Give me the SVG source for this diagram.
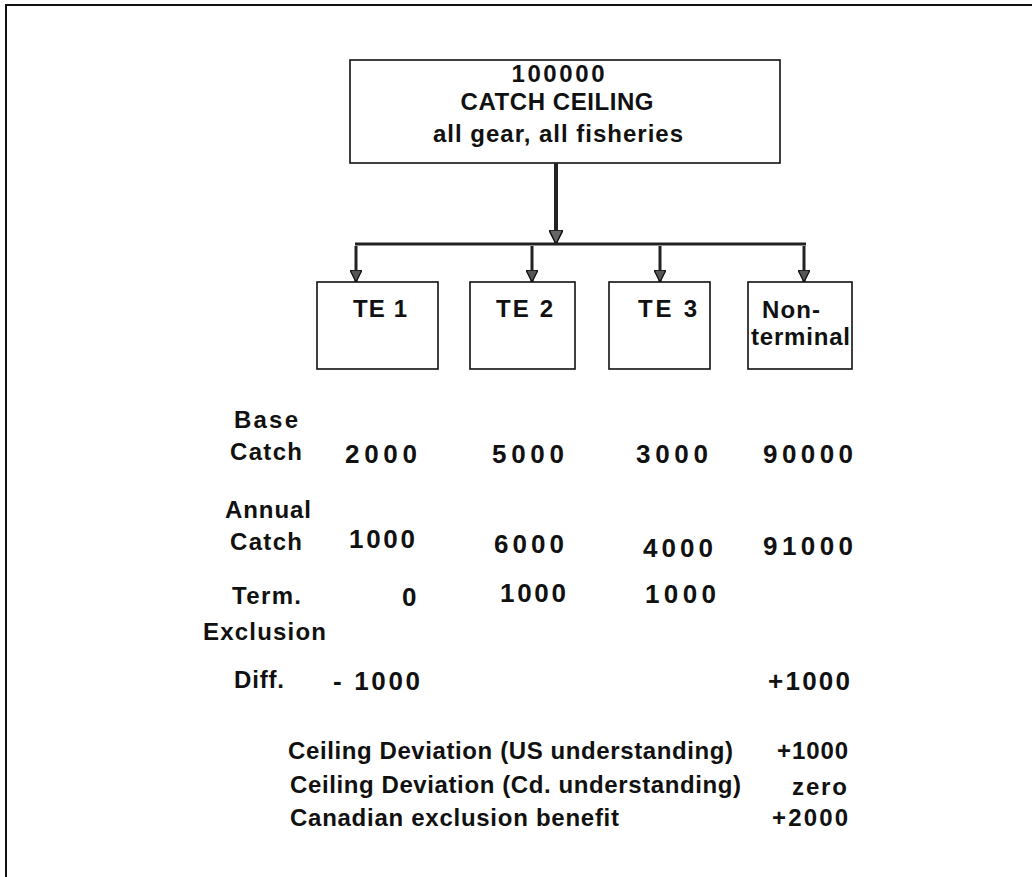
<svg xmlns="http://www.w3.org/2000/svg" width="1036" height="877" viewBox="0 0 1036 877">
<style>
.frame{fill:none;stroke:#111;stroke-width:2}
.bx{fill:#fff;stroke:#111;stroke-width:1.6}
.t{font-family:"Liberation Sans",Arial,Helvetica,sans-serif;font-weight:bold;fill:#111;font-size:24px}
.v{font-size:26px}
.c{text-anchor:middle}
.ln{fill:none;stroke:#222;stroke-width:3}
.main{fill:none;stroke:#222;stroke-width:4}
</style>
<defs>
<marker id="arr" viewBox="0 0 12 12" refX="12" refY="6" markerWidth="12" markerHeight="12" markerUnits="userSpaceOnUse" orient="auto">
<path d="M0,0 L12,6 L0,12 z" fill="#555" stroke="#111" stroke-width="1.3"/>
</marker>
<marker id="arrBig" viewBox="0 0 14 14" refX="14" refY="7" markerWidth="14" markerHeight="14" markerUnits="userSpaceOnUse" orient="auto">
<path d="M0,0 L14,7 L0,14 z" fill="#666" stroke="#111" stroke-width="1.5"/>
</marker>
</defs>
<rect width="1036" height="877" fill="#fff"/>
<path class="frame" d="M6,877 L6,5 L1032,5"/>

<g id="ceiling">
<rect class="bx" x="350" y="60" width="430" height="103"/>
<text class="t c" x="558" y="82" textLength="93">100000</text>
<text class="t c" x="557" y="110" textLength="193">CATCH CEILING</text>
<text class="t c" x="558" y="142" textLength="250">all gear, all fisheries</text>
</g>

<g id="connectors">
<line class="main" x1="556" y1="163" x2="556" y2="244" marker-end="url(#arrBig)"/>
<line class="ln" x1="355" y1="244" x2="806" y2="244"/>
<line class="ln" x1="356" y1="246" x2="356" y2="282" marker-end="url(#arr)"/>
<line class="ln" x1="532" y1="246" x2="532" y2="282" marker-end="url(#arr)"/>
<line class="ln" x1="660" y1="246" x2="660" y2="282" marker-end="url(#arr)"/>
<line class="ln" x1="804" y1="246" x2="804" y2="282" marker-end="url(#arr)"/>
</g>

<g id="te1">
<rect class="bx" x="317" y="282" width="121" height="87"/>
<text class="t" x="353" y="317" textLength="54">TE 1</text>
</g>
<g id="te2">
<rect class="bx" x="470" y="282" width="105" height="87"/>
<text class="t" x="496" y="317" textLength="57">TE 2</text>
</g>
<g id="te3">
<rect class="bx" x="609" y="282" width="101" height="87"/>
<text class="t" x="638" y="317" textLength="59">TE 3</text>
</g>
<g id="nonterminal">
<rect class="bx" x="748" y="282" width="104" height="87"/>
<text class="t" x="762" y="318" textLength="58">Non-</text>
<text class="t" x="751" y="345" textLength="99">terminal</text>
</g>

<g id="table">
<text class="t" x="234" y="428" textLength="64">Base</text>
<text class="t" x="230" y="460" textLength="72">Catch</text>
<text class="t v" x="345" y="463" textLength="72">2000</text>
<text class="t v" x="492" y="463" textLength="72">5000</text>
<text class="t v" x="636" y="463" textLength="72">3000</text>
<text class="t v" x="763" y="463" textLength="90">90000</text>

<text class="t" x="225" y="518" textLength="86">Annual</text>
<text class="t" x="230" y="550" textLength="72">Catch</text>
<text class="t v" x="349" y="548" textLength="66">1000</text>
<text class="t v" x="494" y="553" textLength="70">6000</text>
<text class="t v" x="643" y="557" textLength="70">4000</text>
<text class="t v" x="763" y="555" textLength="90">91000</text>

<text class="t" x="232" y="604" textLength="69">Term.</text>
<text class="t v" x="402" y="606">0</text>
<text class="t v" x="500" y="602" textLength="66">1000</text>
<text class="t v" x="645" y="603" textLength="71">1000</text>
<text class="t" x="203" y="640" textLength="123">Exclusion</text>

<text class="t" x="234" y="688" textLength="50">Diff.</text>
<text class="t v" x="333" y="690" textLength="87">- 1000</text>
<text class="t v" x="768" y="690" textLength="82">+1000</text>

<text class="t" x="288" y="759" textLength="445">Ceiling Deviation (US understanding)</text>
<text class="t" x="777" y="759" textLength="71">+1000</text>
<text class="t" x="290" y="793" textLength="451">Ceiling Deviation (Cd. understanding)</text>
<text class="t" x="792" y="795" textLength="55">zero</text>
<text class="t" x="290" y="826" textLength="329">Canadian exclusion benefit</text>
<text class="t" x="772" y="826" textLength="76">+2000</text>
</g>
</svg>
